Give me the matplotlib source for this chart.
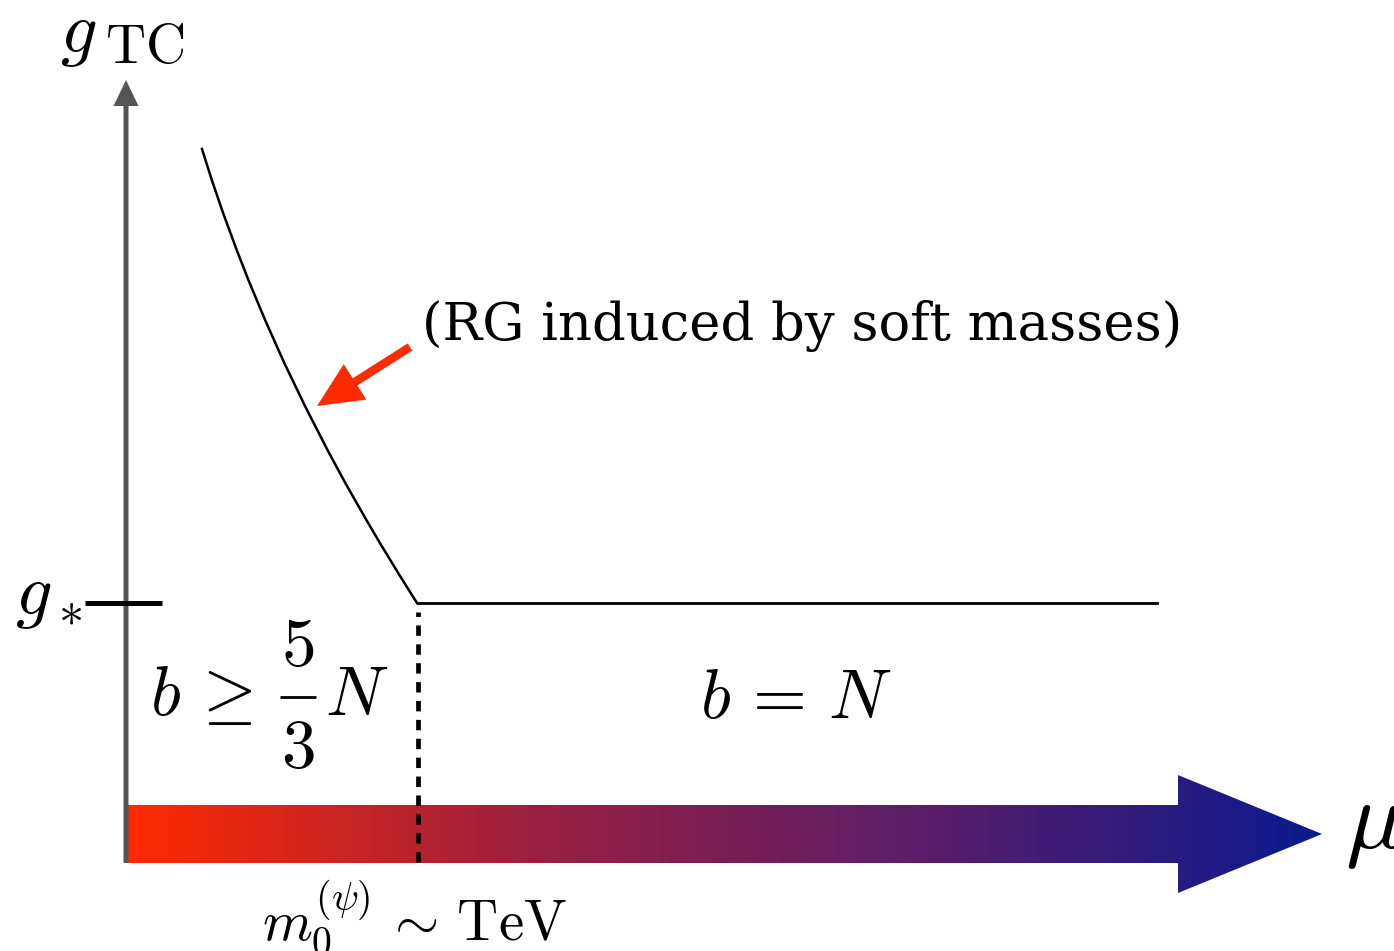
import numpy as np
import matplotlib
matplotlib.use("Agg")
import matplotlib.pyplot as plt
from matplotlib.patches import Polygon, FancyArrow
from matplotlib.colors import LinearSegmentedColormap

plt.rcParams["mathtext.fontset"] = "cm"

# running coupling g_TC(mu) in schematic units
curve_mu = [0.770, 0.868, 0.981, 1.117, 1.234, 1.401, 1.593,
            1.800, 2.025, 2.203, 2.414, 2.549, 2.744, 2.920]
curve_g = [7.13, 6.82, 6.49, 6.12, 5.82, 5.42, 4.99,
           4.56, 4.12, 3.79, 3.42, 3.19, 2.87, 2.59]

g_star = 2.59       # fixed point coupling
mu_tev = 2.93       # soft-mass scale m_0 ~ TeV
mu_max = 10.32      # end of the plateau

fig = plt.figure(figsize=(13.94, 9.51), dpi=100)
ax = fig.add_axes([0, 0, 1, 1])
ax.axis("off")

# mu axis: thick arrow shaded from red (IR) to blue (UV)
shaft_lo, shaft_hi = -0.01, 0.57
head_lo, head_hi = -0.31, 0.87
x0, x_head, x_tip = 0.02, 10.53, 11.97
verts = [(x0, shaft_lo), (x_head, shaft_lo), (x_head, head_lo),
         (x_tip, 0.5 * (shaft_lo + shaft_hi)), (x_head, head_hi),
         (x_head, shaft_hi), (x0, shaft_hi)]
arrow_shape = Polygon(verts, closed=True, facecolor="none", edgecolor="none")
ax.add_patch(arrow_shape)
cmap = LinearSegmentedColormap.from_list("ir_uv", ["#ff2a00", "#9b2040", "#5a1e69", "#0a1a8e"])
grad = np.linspace(0, 1, 512).reshape(1, -1)
img = ax.imshow(grad, cmap=cmap, aspect="auto", extent=(x0, x_tip, head_lo, head_hi),
                origin="lower", zorder=1)
img.set_clip_path(arrow_shape)
ax.set_xlim(-1.25, 12.69)
ax.set_ylim(-0.89, 8.62)

# g axis
ax.add_patch(FancyArrow(0.01, -0.01, 0, 7.83, width=0.05, head_width=0.25,
                        head_length=0.26, length_includes_head=True,
                        color="#555555", lw=0, zorder=3))

# coupling curve and plateau
ax.plot(curve_mu, curve_g, color="black", lw=1.8, zorder=4)
ax.plot([mu_tev, mu_max], [g_star, g_star], color="black", lw=2.0, zorder=4)
ax.plot([-0.40, 0.37], [g_star, g_star], color="black", lw=3.6,
        solid_capstyle="butt", zorder=4)
ax.plot([mu_tev, mu_tev], [0.0, g_star - 0.09], color="black", lw=3.4,
        linestyle=(0, (2.2, 1.8)), dash_capstyle="butt", zorder=4)

# annotation arrow
ax.add_patch(FancyArrow(2.85, 5.15, 1.92 - 2.85, 4.56 - 5.15, width=0.085,
                        head_width=0.42, head_length=0.45,
                        length_includes_head=True, color="#ff2a00", lw=0, zorder=5))

# axis labels
ax.text(-0.65, 8.10, r"$g$", fontsize=52, ha="left", va="baseline")
ax.text(-0.20, 7.99, r"$\mathrm{TC}$", fontsize=40, ha="left", va="baseline")
ax.text(-1.10, 2.48, r"$g_*$", fontsize=52, ha="left", va="baseline")
ax.text(12.20, 0.14, r"$\mu$", fontsize=70, ha="left", va="baseline")

# beta-function regions, b >= 5/3 N set by hand so the fraction stays full size
ax.text(0.25, 1.47, r"$b\,\geq$", fontsize=50, ha="left", va="baseline")
ax.text(1.73, 1.97, r"$5$", fontsize=50, ha="center", va="baseline")
ax.text(1.73, 0.95, r"$3$", fontsize=50, ha="center", va="baseline")
ax.plot([1.55, 1.91], [1.65, 1.65], color="black", lw=2.0, solid_capstyle="butt")
ax.text(2.00, 1.47, r"$N$", fontsize=50, ha="left", va="baseline")
ax.text(5.75, 1.44, r"$b\,=\,N$", fontsize=50, ha="left", va="baseline")

ax.text(2.97, 5.22, "(RG induced by soft masses)", fontsize=38,
        family="DejaVu Serif", ha="left", va="baseline")
ax.text(1.37, -0.78, r"$m_0^{(\psi)}\,\sim\,{\rm TeV}$", fontsize=41,
        ha="left", va="baseline")

fig.savefig("out.png", dpi=100)
